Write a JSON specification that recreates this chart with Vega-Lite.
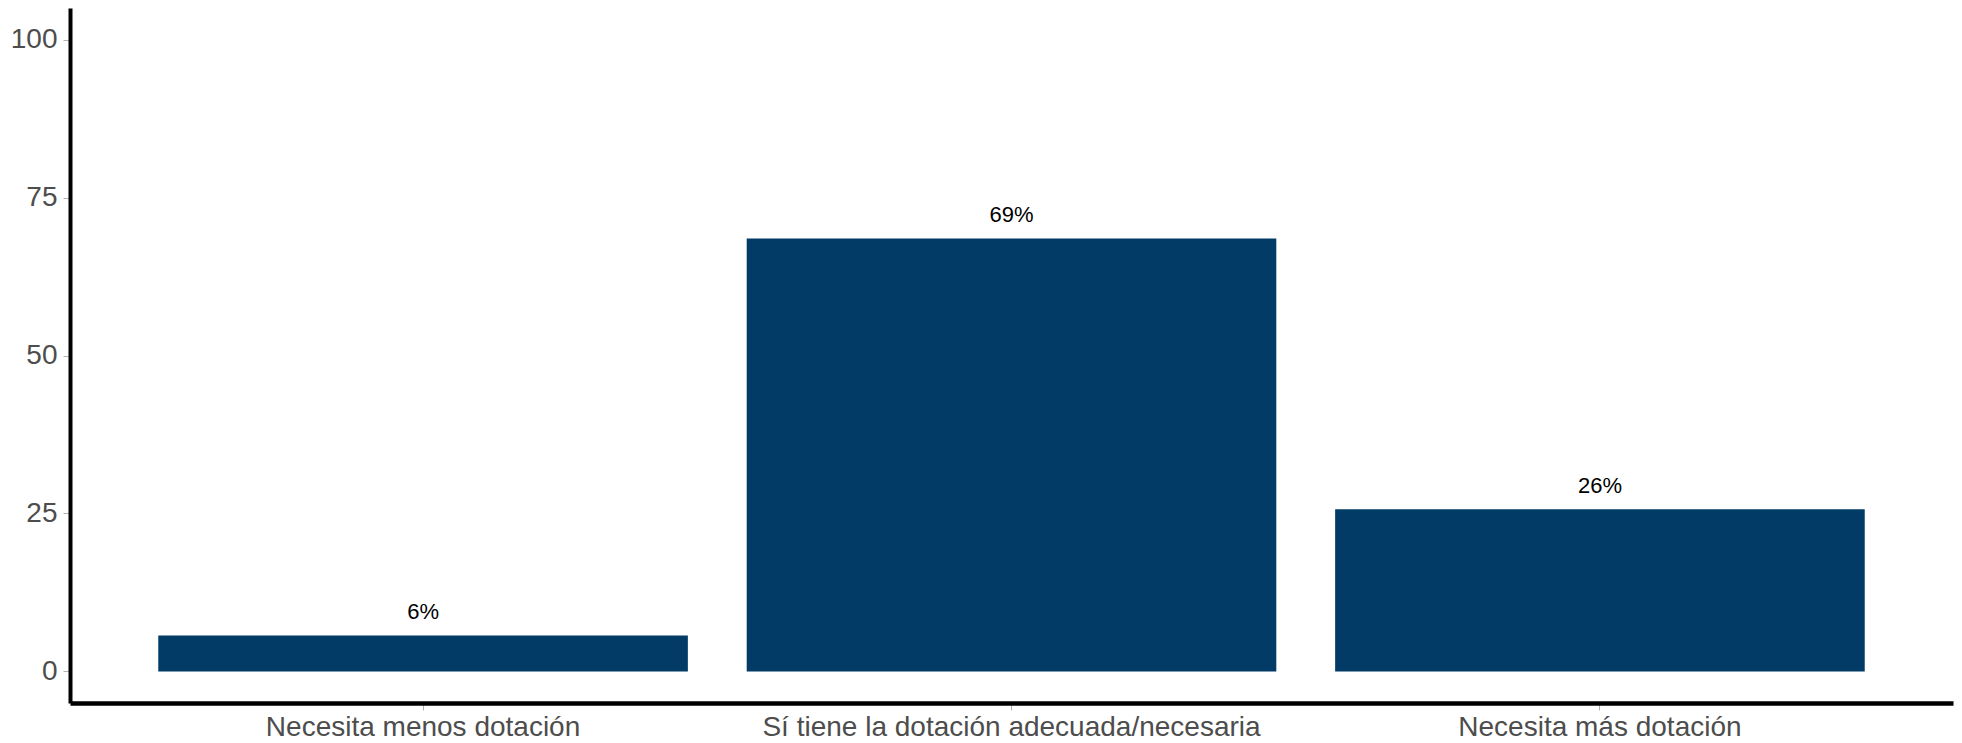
{
  "$schema": "https://vega.github.io/schema/vega-lite/v6.json",
  "width": 1883,
  "height": 695,
  "autosize": {"type": "none"},
  "padding": {"left": 70, "top": 8, "right": 9, "bottom": 40},
  "background": "white",
  "config": {
    "view": {"stroke": null},
    "font": "Liberation Sans"
  },
  "data": {
    "values": [
      {"categoria": "Necesita menos dotación", "valor": 5.7, "etiqueta": "6%"},
      {"categoria": "Sí tiene la dotación adecuada/necesaria", "valor": 68.5, "etiqueta": "69%"},
      {"categoria": "Necesita más dotación", "valor": 25.65, "etiqueta": "26%"}
    ]
  },
  "encoding": {
    "x": {
      "field": "categoria",
      "type": "nominal",
      "sort": null,
      "scale": {"paddingInner": 0.1, "paddingOuter": 0.15},
      "axis": {
        "title": null,
        "labelAngle": 0,
        "labelLimit": 0,
        "labelFont": "Liberation Sans",
        "labelFontSize": 28,
        "labelColor": "#4D4D4D",
        "labelPadding": 3,
        "domainColor": "black",
        "domainWidth": 4.5,
        "tickColor": "#B3B3B3",
        "tickSize": 7,
        "tickWidth": 1,
        "grid": false
      }
    },
    "y": {
      "field": "valor",
      "type": "quantitative",
      "scale": {"domain": [-5, 105], "nice": false, "zero": false},
      "axis": {
        "title": null,
        "values": [0, 25, 50, 75, 100],
        "labelFont": "Liberation Sans",
        "labelFontSize": 28,
        "labelColor": "#4D4D4D",
        "labelPadding": 6,
        "domainColor": "black",
        "domainWidth": 4,
        "tickColor": "#B3B3B3",
        "tickSize": 7,
        "tickWidth": 1,
        "grid": false
      }
    }
  },
  "layer": [
    {
      "mark": {"type": "bar", "color": "#013B66"},
      "encoding": {
        "y2": {"datum": 0}
      }
    },
    {
      "mark": {
        "type": "text",
        "baseline": "middle",
        "align": "center",
        "dy": -23.5,
        "fontSize": 22,
        "font": "Liberation Sans",
        "color": "black"
      },
      "encoding": {
        "text": {"field": "etiqueta"}
      }
    }
  ]
}
